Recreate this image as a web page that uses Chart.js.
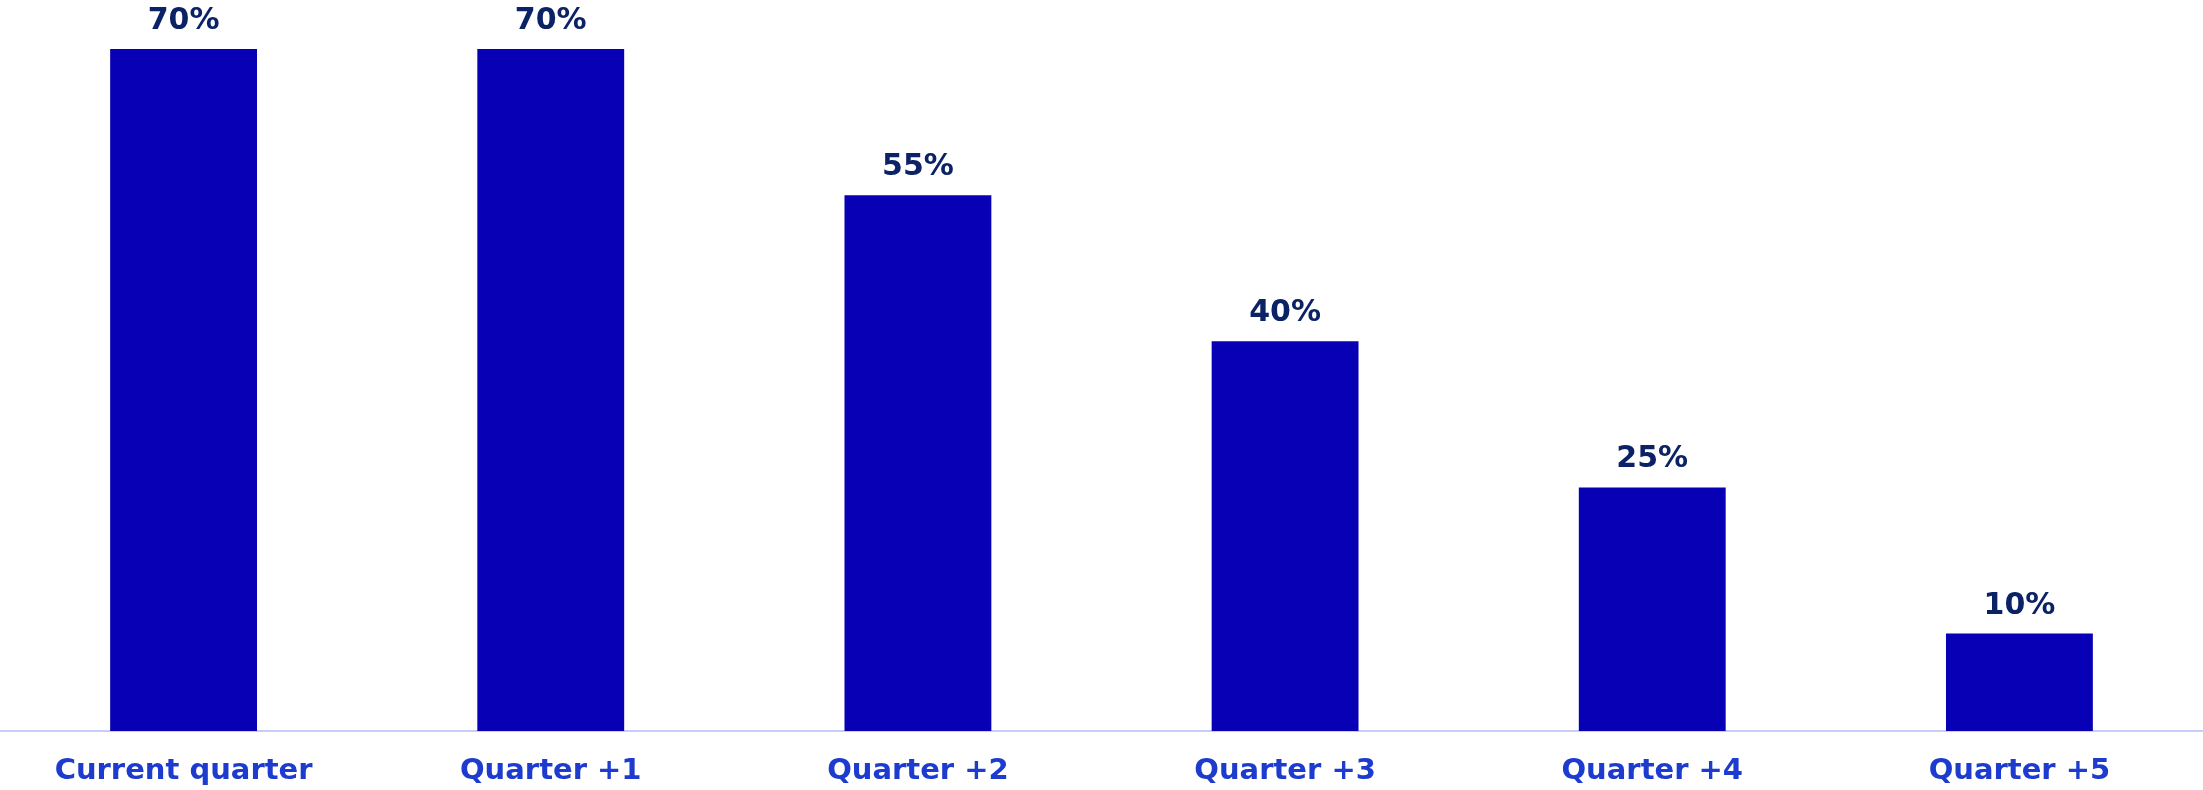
<!DOCTYPE html>
<html>
<head>
<meta charset="utf-8">
<script src="https://cdn.jsdelivr.net/npm/chart.js@4"></script>
<style>
  html, body { margin: 0; padding: 0; background: #fff; }
  #wrap { width: 2203px; height: 790px; }
</style>
</head>
<body>
<div id="wrap"><canvas id="barChart" width="2203" height="790"></canvas></div>
<script>
const quarters = ["Current quarter", "Quarter +1", "Quarter +2", "Quarter +3", "Quarter +4", "Quarter +5"];
const shareValues = [70, 70, 55, 40, 25, 10];

const ctx = document.getElementById("barChart").getContext("2d");

// draws "70%" etc above each bar
const valueLabels = {
  id: "valueLabels",
  afterDatasetsDraw(chart) {
    const c = chart.ctx;
    const meta = chart.getDatasetMeta(0);
    c.save();
    c.font = "bold 30px 'DejaVu Sans'";
    c.fillStyle = "#0b2366";
    c.textAlign = "center";
    c.textBaseline = "alphabetic";
    meta.data.forEach((bar, i) => {
      c.fillText(shareValues[i] + "%", bar.x, bar.y - 20);
    });
    c.restore();
  }
};

new Chart(ctx, {
  type: "bar",
  data: {
    labels: quarters,
    datasets: [{
      data: shareValues,
      backgroundColor: "#0800b4",
      barPercentage: 0.4,
      categoryPercentage: 1.0
    }]
  },
  options: {
    responsive: false,
    animation: false,
    layout: { padding: { top: 49, left: 0, right: 0, bottom: 0 } },
    plugins: { legend: { display: false }, tooltip: { enabled: false } },
    scales: {
      x: {
        grid: { display: false, drawTicks: false },
        border: { display: true, color: "#c5cdf8", width: 2 },
        ticks: {
          color: "#1d3ccf",
          font: { family: "DejaVu Sans", size: 29, weight: "bold" },
          padding: 23,
          maxRotation: 0
        },
        afterFit(scale) { scale.height = 59; }
      },
      y: {
        display: false,
        min: 0,
        max: 70
      }
    }
  },
  plugins: [valueLabels]
});
</script>
</body>
</html>
